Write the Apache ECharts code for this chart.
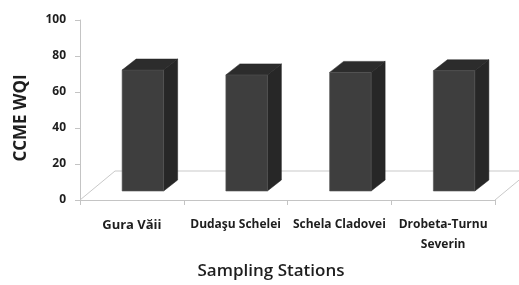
<!DOCTYPE html>
<html>
<head>
<meta charset="utf-8">
<script src="https://cdn.jsdelivr.net/npm/echarts@6/dist/echarts.min.js"></script>
<style>html,body{margin:0;padding:0;background:#fff}#c{width:519px;height:285px}</style>
</head>
<body>
<div id="c"></div>
<script>
var categories = ['Gura V\u0103ii', 'Duda\u015fu Schelei', 'Schela Cladovei', 'Drobeta-Turnu\nSeverin'];
var wqiValues = [67.2, 64.5, 65.9, 66.8];
var yTicks = [0, 20, 40, 60, 80, 100];

var FONT = '"Open Sans"';
var chart = echarts.init(document.getElementById('c'));

function drawBar(params, api) {
  var idx = api.value(0);
  var val = api.value(1);
  var base = api.coord([idx, 0]);
  var top = api.coord([idx, val]);
  var band = api.size([1, 0])[0];
  var w = band * 0.40;
  var sx = 11, sy = -9;     // set-back from the front edge of the floor
  var dx = 14, dy = -11;    // bar depth
  var x0 = base[0] + sx - w / 2, x1 = x0 + w;
  var yb = base[1] + sy, yt = top[1] + sy;
  return {
    type: 'group',
    children: [
      { type: 'polygon', shape: { points: [[x1, yb], [x1 + dx, yb + dy], [x1 + dx, yt + dy], [x1, yt]] },
        style: { fill: '#272727', stroke: '#1f1f1f', lineWidth: 0.5 } },
      { type: 'polygon', shape: { points: [[x0, yt], [x1, yt], [x1 + dx, yt + dy], [x0 + dx, yt + dy]] },
        style: { fill: '#2c2c2c', stroke: '#222', lineWidth: 0.5 } },
      { type: 'rect', shape: { x: x0, y: yt, width: w, height: yb - yt },
        style: { fill: '#3e3e3e', stroke: '#555', lineWidth: 0.6 } }
    ]
  };
}

function drawFloor(params, api) {
  var cs = params.coordSys;
  var x0 = cs.x, x1 = cs.x + cs.width, y0 = cs.y + cs.height;
  var fx = 35, fy = -29;
  return {
    type: 'polyline',
    shape: { points: [[x0, y0], [x0 + fx, y0 + fy], [x1 + fx, y0 + fy], [x1, y0]] },
    style: { stroke: '#c9c9c9', lineWidth: 1, fill: null }
  };
}

chart.setOption({
  animation: false,
  backgroundColor: '#fff',
  grid: { left: 80, right: 24, top: 20, bottom: 85 },
  xAxis: {
    type: 'category',
    data: categories.map(function (c, i) {
      return i === 0 ? { value: c, textStyle: { fontSize: 13 } } : c;
    }),
    boundaryGap: true,
    axisLine: { lineStyle: { color: '#c4c4c4', width: 1 } },
    axisTick: { show: true, interval: 0, length: 5, lineStyle: { color: '#c4c4c4' } },
    axisLabel: { interval: 0, margin: 15, color: '#1e1e1e', fontFamily: FONT, fontWeight: 'bold', fontSize: 12, lineHeight: 20 }
  },
  yAxis: {
    type: 'value',
    min: yTicks[0], max: yTicks[yTicks.length - 1], interval: yTicks[1] - yTicks[0],
    splitLine: { show: false },
    axisLine: { show: true, lineStyle: { color: '#c4c4c4', width: 1 } },
    axisTick: { show: true, length: 5, lineStyle: { color: '#c4c4c4' } },
    axisLabel: { margin: 14, color: '#1e1e1e', fontFamily: FONT, fontWeight: 'bold', fontSize: 12 }
  },
  graphic: [
    { type: 'text', x: 21, y: 118, rotation: Math.PI / 2,
      style: { text: 'CCME WQI', fill: '#1e1e1e', font: 'bold 17px ' + FONT, align: 'center', verticalAlign: 'middle' } },
    { type: 'text', x: 271, y: 271,
      style: { text: 'Sampling Stations', fill: '#1e1e1e', font: '600 17px ' + FONT, align: 'center', verticalAlign: 'middle' } }
  ],
  series: [
    { type: 'custom', renderItem: drawFloor, data: [[0, 0]], silent: true, z: 1 },
    { type: 'custom', renderItem: drawBar, data: wqiValues.map(function (v, i) { return [i, v]; }),
      encode: { x: 0, y: 1 }, z: 2 }
  ]
});
</script>
</body>
</html>
